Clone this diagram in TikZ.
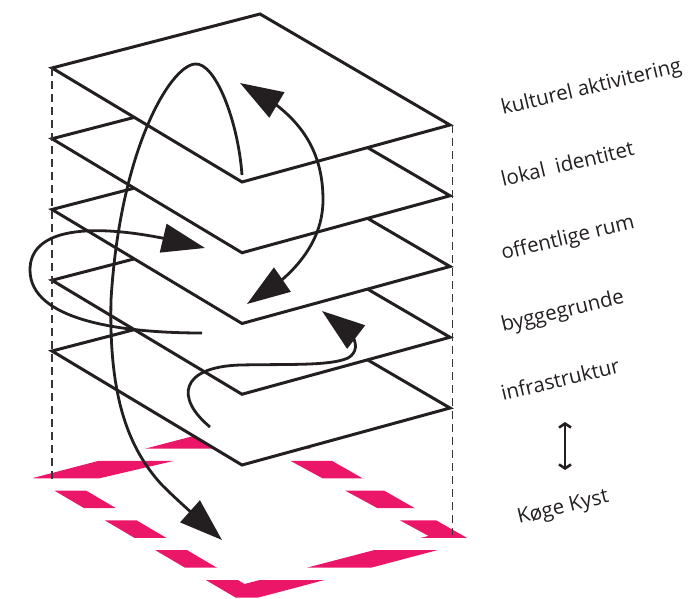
\documentclass[tikz,border=0pt]{standalone}
\usepackage{fontspec}
\setmainfont{Open Sans}
\usetikzlibrary{arrows.meta,bending}
\definecolor{ink}{RGB}{35,31,32}
\definecolor{kogepink}{RGB}{236,22,104}

\begin{document}
\begin{tikzpicture}[x=1pt,y=-1pt,
  >={Triangle[length=43pt,width=29pt]},
  plane/.style={draw=ink,line width=3pt,fill=white},
  flow/.style={draw=ink,line width=2.8pt,->},
  guide/.style={draw=ink!90,line width=1.9pt,dash pattern=on 8pt off 5pt},
  lbl/.style={anchor=base west,rotate=13.5,text=ink,inner sep=0pt,
    font=\fontsize{20.5}{24}\selectfont}]
\useasboundingbox (0,0) rectangle (693,599);

% Koge Kyst ground, cut in stripes
\begin{scope}
\clip foreach \k in {-2,...,4} {(0,460.8+29.8*\k) rectangle (693,478.3+29.8*\k)};
\fill[kogepink,even odd rule] (33,478) -- (258.6,419) -- (472.2,540.9) -- (242.6,601.7) -- cycle
  (75,484) -- (255.4,441.8) -- (428.5,535.9) -- (244.5,584) -- cycle;
\end{scope}

% layers, bottom first
\foreach \k in {4,3,2,1,0}
{
\draw[plane] (52,68+70.75*\k) -- (260,14+70.75*\k) -- (450,125+70.75*\k) -- (242,182+70.75*\k) -- cycle;
}
\draw[guide] (52,68) -- (52,480);
\draw[guide] (452.5,125) -- (452.5,535);

% flows between the layers
\draw[flow] (242,175) .. controls (238,120) and (215,62) .. (195,64) .. controls (170,66) and (120,150) .. (111,300)
  .. controls (109,390) and (125,445) .. (162,485) .. controls (180,503) and (200,520) .. (222,540);
\draw[flow,<->] (240,83) .. controls (300,112) and (323,150) .. (323,200) .. controls (323,245) and (290,280) .. (247,304);
\draw[flow] (202,333) .. controls (120,333) and (30,320) .. (30,270) .. controls (30,225) and (100,220) .. (205,248);
\draw[flow] (210,427) .. controls (175,398) and (180,367) .. (240,365) .. controls (290,364) and (330,366) .. (348,358)
  .. controls (362,350) and (358,330) .. (322,311);

% labels
\node[lbl] (kultur) at (503,115) {kulturel aktivitering};
\node[lbl] (lokal) at (503,187) {lokal\ \ identitet};
\node[lbl] (offentlig) at (503,260) {offentlige rum};
\node[lbl] (byggegrund) at (503,332) {byggegrunde};
\node[lbl] (infra) at (503,401) {infrastruktur};
\node[lbl] (koge) at (519,524) {Køge Kyst};
\coordinate (scaletop) at (565,422);
\coordinate (scalebot) at (565,470);
\draw[ink,line width=2.6pt,{Straight Barb[length=4pt,width=12pt]}-{Straight Barb[length=4pt,width=12pt]}] (scaletop) -- (scalebot);
\end{tikzpicture}
\end{document}
